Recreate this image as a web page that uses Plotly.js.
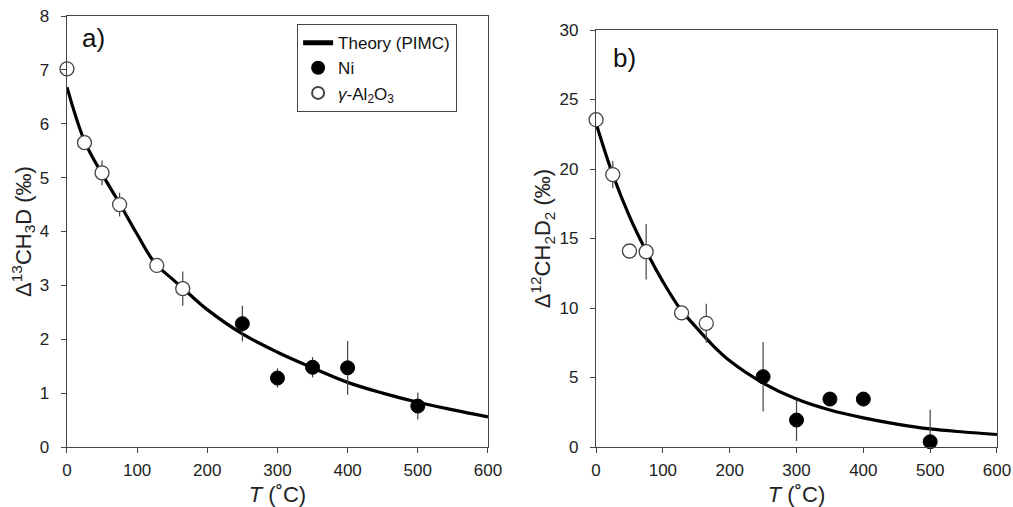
<!DOCTYPE html>
<html>
<head>
<meta charset="utf-8">
<script src="https://cdn.plot.ly/plotly-3.0.1.min.js"></script>
<style>html,body{margin:0;padding:0;background:#fff;}#chart{width:1013px;height:507px;}</style>
</head>
<body>
<div id="chart"></div>
<script>
// Theory curves
const T_curve = [0, 25, 50, 75, 100, 125, 150, 175, 200, 250, 300, 350, 400, 450, 500, 550, 600];
const theoryA = [6.68, 5.68, 5.07, 4.52, 3.95, 3.42, 3.12, 2.83, 2.55, 2.1, 1.76, 1.47, 1.2, 1.0, 0.83, 0.69, 0.56];
const theoryB = [23.3, 19.6, 16.6, 14.1, 11.9, 10.0, 8.6, 7.3, 6.2, 4.6, 3.45, 2.66, 2.1, 1.65, 1.3, 1.08, 0.9];

// gamma-Al2O3 data
const T_Al = [0, 25, 50, 75, 128, 165];
const a_Al = [7.02, 5.65, 5.09, 4.5, 3.37, 2.94];
const a_Al_err = [0, 0, 0.23, 0.22, 0, 0.32];
const b_Al = [23.55, 19.6, 14.1, 14.05, 9.65, 8.9];
const b_Al_err = [0, 0.97, 0, 2.0, 0, 1.4];

// Ni data
const T_Ni = [250, 300, 350, 400, 500];
const a_Ni = [2.29, 1.28, 1.48, 1.47, 0.76];
const a_Ni_err = [0.33, 0.18, 0.19, 0.5, 0.25];
const b_Ni = [5.06, 1.94, 3.45, 3.45, 0.38];
const b_Ni_err = [2.5, 1.5, 0.3, 0, 2.3];

const xTicks = [0, 100, 200, 300, 400, 500, 600];
const aTicks = [0, 1, 2, 3, 4, 5, 6, 7, 8];
const bTicks = [0, 5, 10, 15, 20, 25, 30];

const FONT = 'Liberation Sans, Arial, sans-serif';

function errObj(arr) {
  return {type: 'data', array: arr, visible: true, color: '#444', thickness: 1.2, width: 0};
}

const traces = [
  {x: T_curve, y: theoryA, type: 'scatter', mode: 'lines', name: 'Theory (PIMC)',
   line: {color: '#000', width: 3.2, shape: 'spline', smoothing: 1}, xaxis: 'x', yaxis: 'y', legendrank: 1},
  {x: T_Ni, y: a_Ni, type: 'scatter', mode: 'markers', name: 'Ni', error_y: errObj(a_Ni_err),
   marker: {color: '#000', size: 14, line: {color: '#000', width: 1}}, cliponaxis: false, xaxis: 'x', yaxis: 'y', legendrank: 2},
  {x: T_Al, y: a_Al, type: 'scatter', mode: 'markers', name: '<i>γ</i>-Al<sub>2</sub>O<sub>3</sub>', error_y: errObj(a_Al_err),
   marker: {color: '#fff', size: 14, line: {color: '#444', width: 1.3}}, cliponaxis: false, xaxis: 'x', yaxis: 'y', legendrank: 3},
  {x: T_curve, y: theoryB, type: 'scatter', mode: 'lines', showlegend: false,
   line: {color: '#000', width: 3.2, shape: 'spline', smoothing: 1}, xaxis: 'x2', yaxis: 'y2'},
  {x: T_Ni, y: b_Ni, type: 'scatter', mode: 'markers', showlegend: false, error_y: errObj(b_Ni_err),
   marker: {color: '#000', size: 14, line: {color: '#000', width: 1}}, cliponaxis: false, xaxis: 'x2', yaxis: 'y2'},
  {x: T_Al, y: b_Al, type: 'scatter', mode: 'markers', showlegend: false, error_y: errObj(b_Al_err),
   marker: {color: '#fff', size: 14, line: {color: '#444', width: 1.3}}, cliponaxis: false, xaxis: 'x2', yaxis: 'y2'}
];

const axisCommon = {
  showgrid: false, zeroline: false, showline: true, linecolor: '#444', linewidth: 1.3,
  mirror: true, ticks: 'outside', ticklen: 5, tickcolor: '#444', tickwidth: 1,
  tickfont: {family: FONT, size: 17, color: '#222'}, automargin: false
};
const xTitle = {text: '<i>T</i> (˚C)', font: {family: FONT, size: 22, color: '#222'}, standoff: 10};

const layout = {
  width: 1013, height: 507,
  margin: {l: 0, r: 0, t: 0, b: 0},
  paper_bgcolor: '#fff', plot_bgcolor: '#fff',
  font: {family: FONT, color: '#222'},
  showlegend: true,
  legend: {x: 0.293, y: 0.953, xanchor: 'left', yanchor: 'top',
           bordercolor: '#444', borderwidth: 1.3, bgcolor: '#fff',
           font: {family: FONT, size: 17, color: '#111'}, tracegroupgap: 0, itemsizing: 'constant',
           itemwidth: 30},
  xaxis: Object.assign({}, axisCommon, {domain: [0.0661, 0.4817], range: [0, 600], tickvals: xTicks, anchor: 'y',
    ticklabelstandoff: 2, title: xTitle}),
  yaxis: Object.assign({}, axisCommon, {domain: [0.1183, 0.9684], range: [0, 8], tickvals: aTicks, anchor: 'x',
    ticklabelstandoff: 8,
    title: {text: 'Δ<sup>13</sup>CH<sub>3</sub>D (‰)', font: {family: FONT, size: 22, color: '#222'}, standoff: 2}}),
  xaxis2: Object.assign({}, axisCommon, {domain: [0.5884, 0.9842], range: [0, 600], tickvals: xTicks, anchor: 'y2',
    ticklabelstandoff: 2, title: xTitle}),
  yaxis2: Object.assign({}, axisCommon, {domain: [0.1183, 0.9408], range: [0, 30], tickvals: bTicks, anchor: 'x2',
    ticklabelstandoff: 8,
    title: {text: 'Δ<sup>12</sup>CH<sub>2</sub>D<sub>2</sub> (‰)', font: {family: FONT, size: 22, color: '#222'}, standoff: 2}}),
  annotations: [
    {text: 'a)', xref: 'paper', yref: 'paper', x: 80 / 1013, y: 1 - 38 / 507, xanchor: 'left', yanchor: 'middle',
     showarrow: false, font: {family: FONT, size: 26, color: '#111'}},
    {text: 'b)', xref: 'paper', yref: 'paper', x: 611 / 1013, y: 1 - 58 / 507, xanchor: 'left', yanchor: 'middle',
     showarrow: false, font: {family: FONT, size: 26, color: '#111'}}
  ]
};

Plotly.newPlot('chart', traces, layout, {staticPlot: true, displayModeBar: false});
</script>
</body>
</html>
